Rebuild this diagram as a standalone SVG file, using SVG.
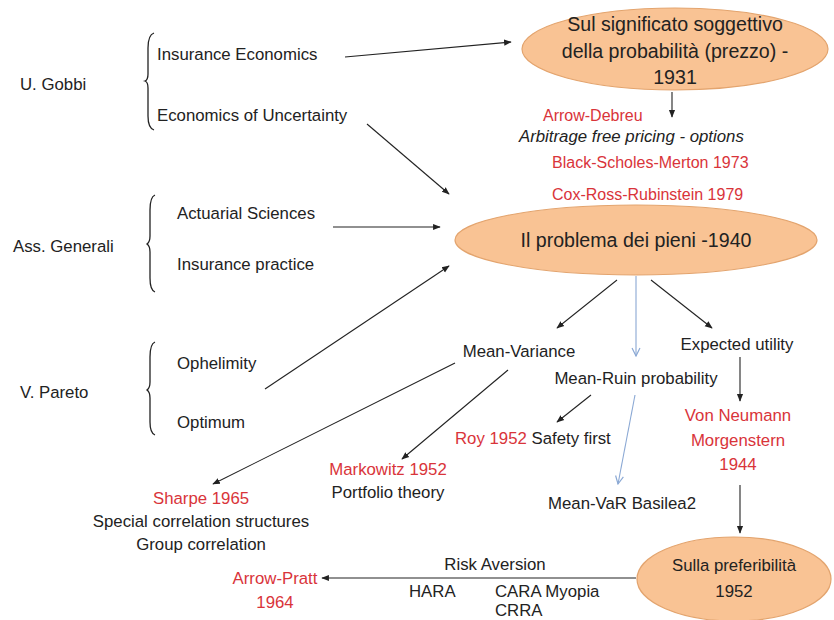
<svg xmlns="http://www.w3.org/2000/svg" width="834" height="620" viewBox="0 0 834 620">
<style>
text{font-family:"Liberation Sans",Arial,sans-serif;font-size:16.8px;fill:#222}
.r{fill:#d9343a}
.s{font-size:16px}
.big{font-size:19.6px}
.c{text-anchor:middle}
.e{fill:#f9c394;stroke:#e3a46e;stroke-width:1.2}
.l{stroke:#222;stroke-width:1.1;fill:none}
.b{stroke:#8aa8d4;stroke-width:1.1;fill:none}
.br{stroke:#222;stroke-width:1.3;fill:none}
</style>
<defs>
<marker id="a" viewBox="0 0 10 10" refX="9" refY="5" markerWidth="7" markerHeight="7" orient="auto"><path d="M0,1 L10,5 L0,9 z" fill="#222"/></marker>
<marker id="ab" viewBox="0 0 10 10" refX="9" refY="5" markerWidth="9" markerHeight="9" orient="auto"><path d="M1,1 L9,5 L1,9" fill="none" stroke="#8aa8d4" stroke-width="1.2"/></marker>
</defs>
<rect width="834" height="620" fill="#fff"/>
<g id="connectors">
<line class="l" x1="345" y1="57" x2="511" y2="42" marker-end="url(#a)"/>
<line class="l" x1="672" y1="92" x2="672" y2="117" marker-end="url(#a)"/>
<line class="l" x1="367" y1="124" x2="449" y2="194" marker-end="url(#a)"/>
<line class="l" x1="333" y1="227" x2="440" y2="227" marker-end="url(#a)"/>
<line class="l" x1="265" y1="389" x2="449" y2="266" marker-end="url(#a)"/>
<line class="l" x1="617" y1="280" x2="557" y2="328" marker-end="url(#a)"/>
<line class="b" x1="636" y1="276" x2="636" y2="356" marker-end="url(#ab)"/>
<line class="l" x1="651" y1="280" x2="712" y2="328" marker-end="url(#a)"/>
<line class="l" x1="591" y1="395" x2="557" y2="422" marker-end="url(#a)"/>
<line class="b" x1="635" y1="395" x2="618" y2="484" marker-end="url(#ab)"/>
<line class="l" x1="740" y1="357" x2="740" y2="401" marker-end="url(#a)"/>
<line class="l" x1="455" y1="363" x2="213" y2="484" marker-end="url(#a)"/>
<line class="l" x1="508" y1="370" x2="402" y2="459" marker-end="url(#a)"/>
<line class="l" x1="740" y1="485" x2="740" y2="533" marker-end="url(#a)"/>
<line class="l" x1="636" y1="578" x2="322" y2="578" marker-end="url(#a)"/>
</g>
<g id="gobbi">
<text x="20" y="90">U. Gobbi</text>
<path class="br" d="M154,33 Q148,35 148,48 L148,74 Q148,80 145,81 Q148,82 148,88 L148,116 Q148,128 154,130"/>
<text x="157" y="60">Insurance Economics</text>
<text x="157" y="121">Economics of Uncertainty</text>
</g>
<g id="generali">
<text x="13" y="252">Ass. Generali</text>
<path class="br" d="M155,195 Q150,197 150,210 L150,236 Q150,242 147,244 Q150,246 150,252 L150,278 Q150,290 155,292"/>
<text x="177" y="219">Actuarial Sciences</text>
<text x="177" y="270">Insurance practice</text>
</g>
<g id="pareto">
<text x="20" y="398">V. Pareto</text>
<path class="br" d="M155,342 Q150,344 150,357 L150,382 Q150,388 147,390 Q150,392 150,398 L150,422 Q150,433 155,435"/>
<text x="177" y="369">Ophelimity</text>
<text x="177" y="428">Optimum</text>
</g>
<g id="soggettivo">
<ellipse class="e" cx="675" cy="49" rx="153" ry="41"/>
<text class="big c" x="675" y="31">Sul significato soggettivo</text>
<text class="big c" x="675" y="58">della probabilità (prezzo) -</text>
<text class="big c" x="675" y="84">1931</text>
</g>
<g id="arbitrage">
<text class="r s" x="543" y="121">Arrow-Debreu</text>
<text x="519" y="142" font-style="italic" font-size="17.5">Arbitrage free pricing - options</text>
<text class="r s" x="552" y="168">Black-Scholes-Merton 1973</text>
<text class="r s" x="552" y="200">Cox-Ross-Rubinstein 1979</text>
</g>
<g id="pieni">
<ellipse class="e" cx="636" cy="240" rx="181" ry="35"/>
<text class="big c" x="636" y="247">Il problema dei pieni -1940</text>
</g>
<g id="meanvariance"><text class="c" x="519" y="357">Mean-Variance</text></g>
<g id="meanruin"><text class="c" x="636" y="384">Mean-Ruin probability</text></g>
<g id="expected"><text class="c" x="737" y="350">Expected utility</text></g>
<g id="roy"><text x="455" y="444"><tspan class="r">Roy 1952</tspan> Safety first</text></g>
<g id="vonneumann">
<text class="r c" x="738" y="421">Von Neumann</text>
<text class="r c" x="738" y="446">Morgenstern</text>
<text class="r c" x="738" y="470">1944</text>
</g>
<g id="markowitz">
<text class="r c" x="388" y="475">Markowitz 1952</text>
<text class="c" x="388" y="498">Portfolio theory</text>
</g>
<g id="sharpe">
<text class="r c" x="201" y="504">Sharpe 1965</text>
<text class="c" x="201" y="527">Special correlation structures</text>
<text class="c" x="201" y="550">Group correlation</text>
</g>
<g id="meanvar"><text class="c" x="622" y="509">Mean-VaR Basilea2</text></g>
<g id="preferibilita">
<ellipse class="e" cx="734" cy="579" rx="97" ry="42"/>
<text class="c" x="734" y="571">Sulla preferibilità</text>
<text class="c" x="734" y="597">1952</text>
</g>
<g id="riskaversion">
<text class="c" x="495" y="570">Risk Aversion</text>
<text x="409" y="597">HARA</text>
<text x="495" y="597">CARA Myopia</text>
<text x="495" y="616">CRRA</text>
</g>
<g id="arrowpratt">
<text class="r c" x="275" y="584">Arrow-Pratt</text>
<text class="r c" x="275" y="608">1964</text>
</g>
</svg>
